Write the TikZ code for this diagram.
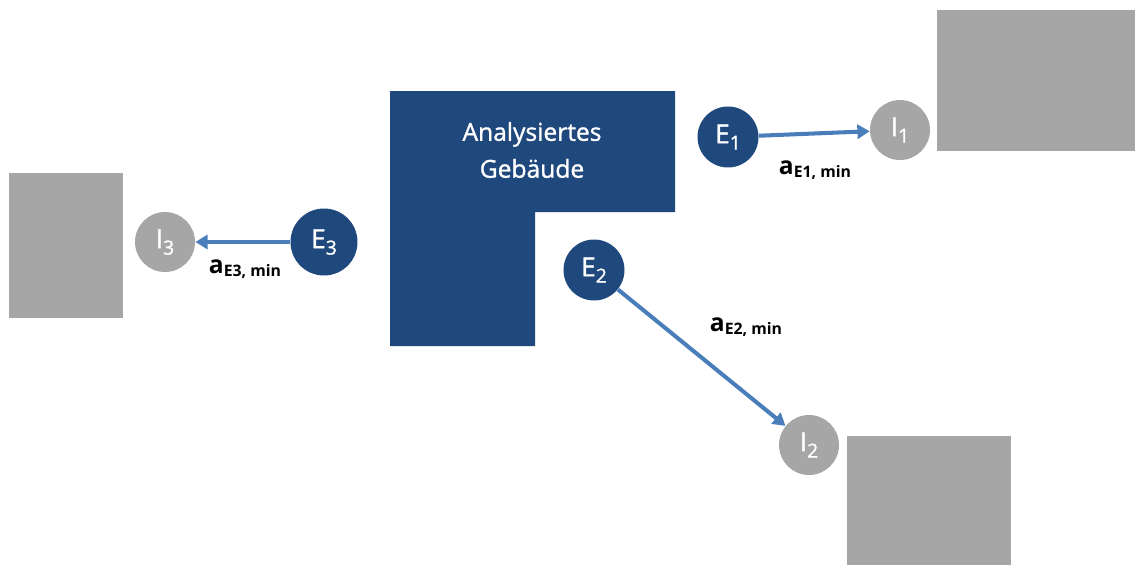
\documentclass[tikz,border=0pt]{standalone}
\usepackage{fontspec}
\setmainfont{Open Sans}
\newfontfamily\semibf[FakeBold=1.2]{Open Sans}
\usetikzlibrary{arrows.meta}
\definecolor{bldblue}{RGB}{31,73,125}
\definecolor{nbgray}{RGB}{166,166,166}
\definecolor{arrblue}{RGB}{74,126,187}
\newcommand{\lowidx}[1]{\raisebox{-0.45ex}{\fontsize{11}{11}\selectfont #1}}
\newcommand{\distlbl}[1]{{\fontsize{14}{14}\selectfont\bfseries a}\raisebox{-0.3ex}{\fontsize{9}{9}\selectfont\bfseries #1, min}}

\begin{document}
\begin{tikzpicture}[
  x=0.02cm,y=-0.02cm,
  ent/.style={circle,fill=bldblue,text=white,minimum size=1.22cm,inner sep=0pt,font=\semibf\fontsize{15}{15}\selectfont},
  imm/.style={circle,fill=nbgray,text=white,minimum size=1.2cm,inner sep=0pt,font=\semibf\fontsize{15}{15}\selectfont},
  dist/.style={arrblue,line width=2.3pt,-{Triangle[length=7pt,width=8pt]}},
  lbl/.style={inner sep=0pt}]
\useasboundingbox (0,0) rectangle (1135,565);

% neighbouring buildings
\fill[nbgray] (937,10) rectangle (1135,151);
\fill[nbgray] (9,173) rectangle (123,318);
\fill[nbgray] (847,436) rectangle (1011,565);

% analysed building (L-shape)
\fill[bldblue] (390,91) -- (675,91) -- (675,212) -- (535,212) -- (535,346) -- (390,346) -- cycle;
\node[text=white,align=center,font=\semibf\fontsize{14}{21}\selectfont] (bldg) at (532,150) {Analysiertes\\Gebäude};

\node[ent] (e1) at (728,137) {E\lowidx{1}};
\node[ent] (e2) at (594,270) {E\lowidx{2}};
\node[ent,minimum size=1.34cm] (e3) at (324,242) {E\lowidx{3}};
\node[imm] (i1) at (900,130) {I\lowidx{1}};
\node[imm] (i2) at (809,445) {I\lowidx{2}};
\node[imm] (i3) at (165,242) {I\lowidx{3}};

\draw[dist] (e1) -- (i1);
\draw[dist] (e2) -- (i2);
\draw[dist] (e3) -- (i3);

\node[lbl] (a1) at (815,170) {\distlbl{E1}};
\node[lbl] (a2) at (746,327) {\distlbl{E2}};
\node[lbl] (a3) at (245,269) {\distlbl{E3}};
\end{tikzpicture}
\end{document}
